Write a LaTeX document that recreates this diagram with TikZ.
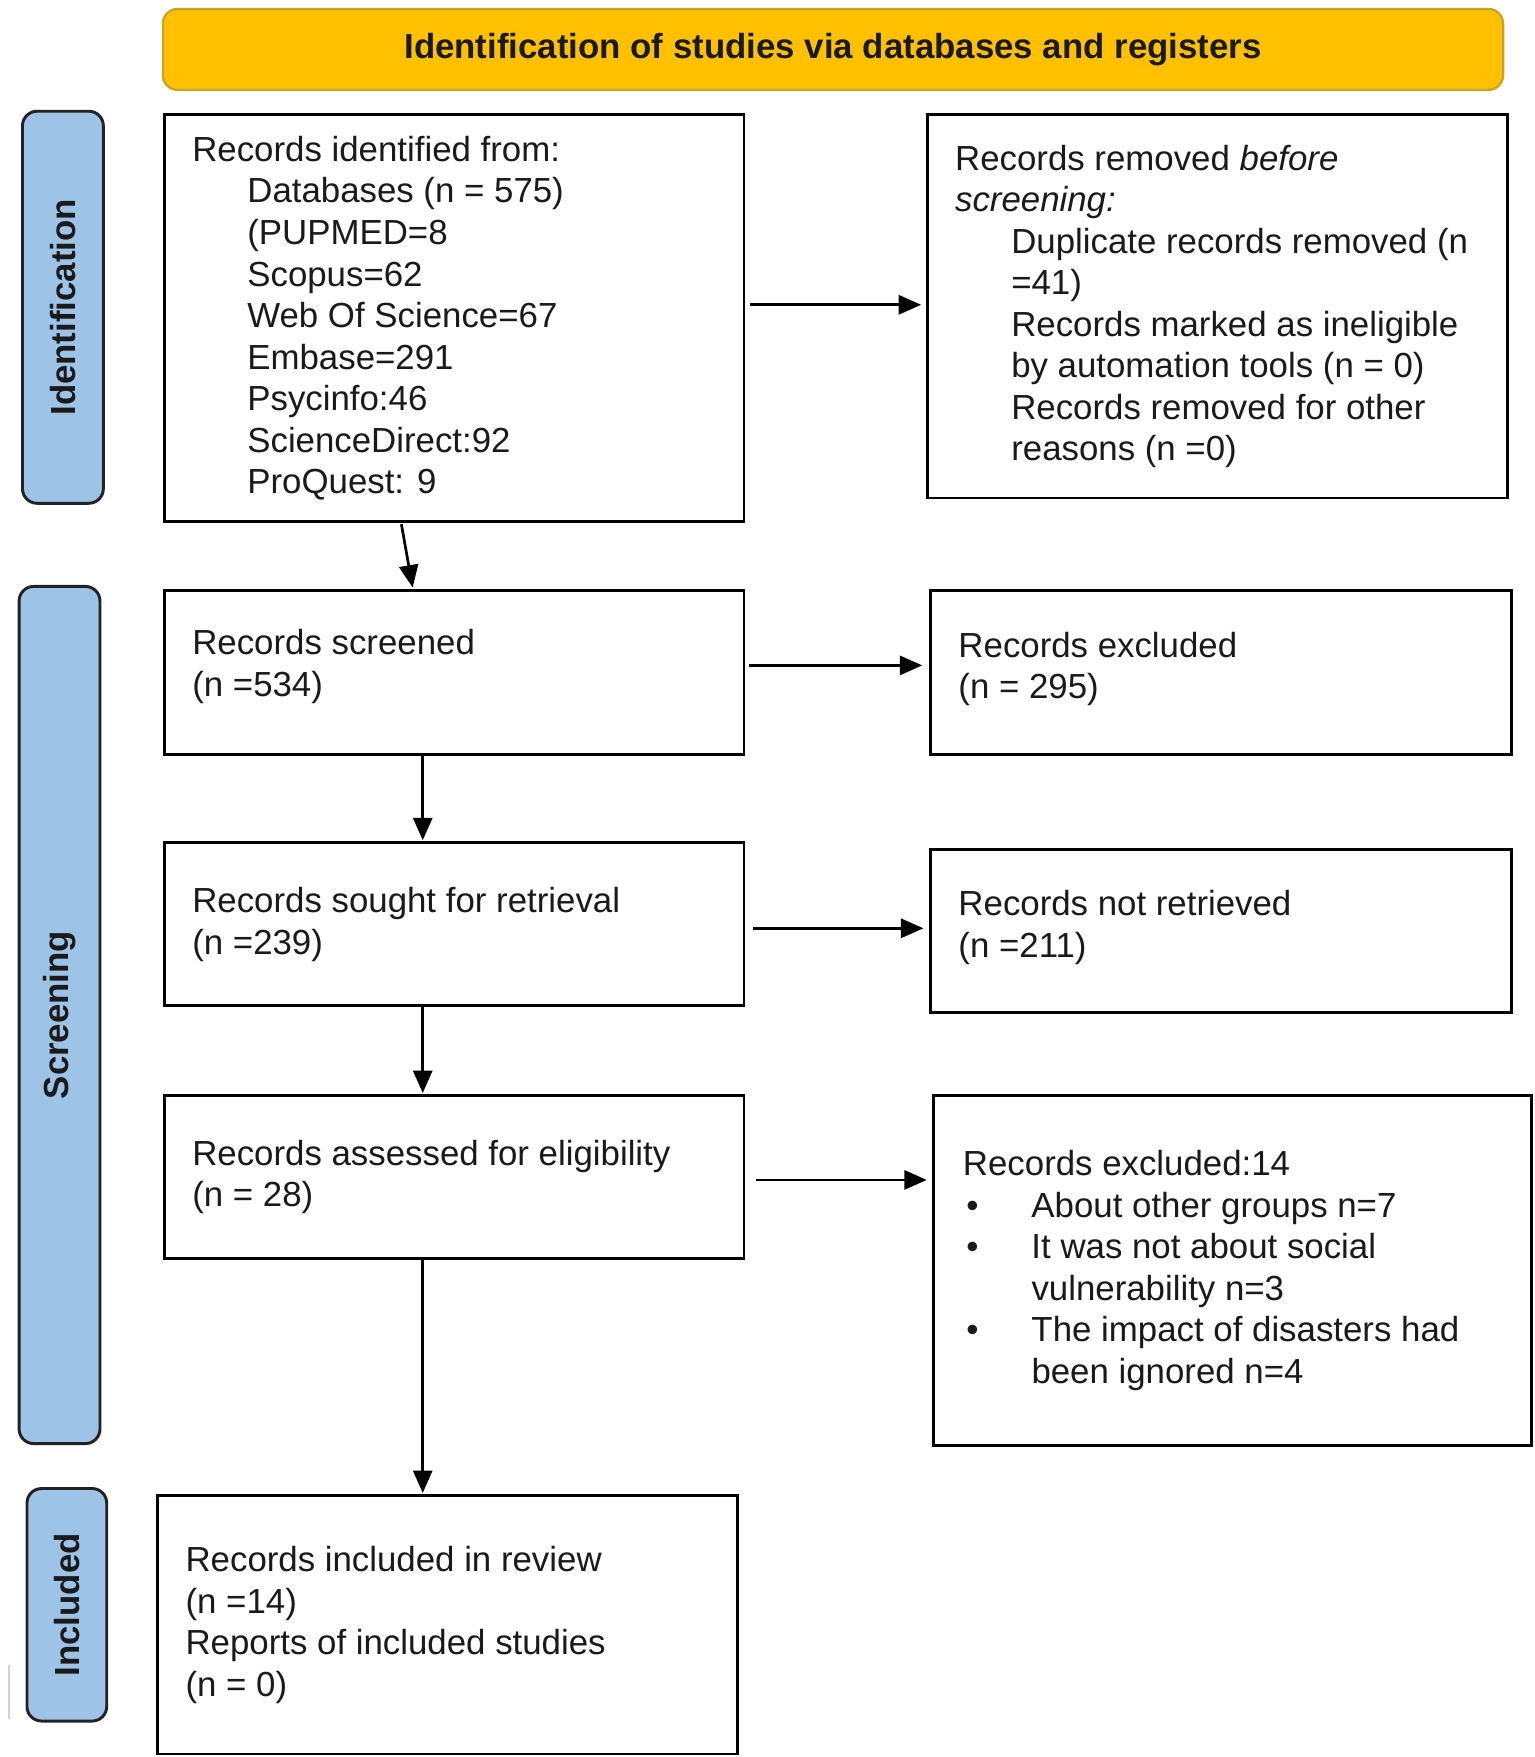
\documentclass[tikz,border=0pt]{standalone}
\usepackage{fontspec}
\setmainfont{Liberation Sans}
\usetikzlibrary{arrows.meta,calc}
\definecolor{banner}{HTML}{FFC000}
\definecolor{bannerline}{HTML}{C9A227}
\definecolor{sidefill}{HTML}{9DC3E6}
\definecolor{sideline}{HTML}{222222}
\definecolor{ink}{HTML}{1A1A1A}
\begin{document}
\begin{tikzpicture}[x=1pt,y=-1pt,
  box/.style={draw=black,line width=2.6pt,fill=white,anchor=north west,inner sep=0pt},
  txt/.style={anchor=west,align=left,inner sep=0pt,text=ink,font=\fontsize{31}{37}\selectfont},
  sidebox/.style={draw=sideline,line width=2.6pt,fill=sidefill,rounded corners=13pt,rotate=90,
     inner sep=0pt,text=ink,font=\fontsize{31}{37}\selectfont\bfseries},
  arr/.style={draw=black,line width=2.4pt,-{Triangle[length=20pt,width=17pt]}}
]
\useasboundingbox (0,0) rectangle (1366,1564);

% banner
\node[draw=bannerline,line width=2pt,fill=banner,rounded corners=13pt,minimum width=1193pt,minimum height=72pt,
  inner sep=0pt,text=ink,font=\fontsize{31}{37}\selectfont\bfseries] (ban) at (741.5,44)
  {Identification of studies via databases and registers};

% side labels
\node[sidebox,minimum width=349pt,minimum height=72pt] (sid) at (56,273.5) {Identification};
\node[sidebox,minimum width=763pt,minimum height=72pt] (ssc) at (53,903.5) {Screening};
\node[sidebox,minimum width=207pt,minimum height=71pt] (sin) at (59.5,1428.5) {Included};

% left column boxes
\node[box,minimum width=516pt,minimum height=362pt] (b1) at (145,101) {};
\node[box,minimum width=516pt,minimum height=146pt] (b2) at (145,524) {};
\node[box,minimum width=516pt,minimum height=145pt] (b3) at (145,749) {};
\node[box,minimum width=516pt,minimum height=145pt] (b4) at (145,974) {};
\node[box,minimum width=516pt,minimum height=230pt] (b5) at (139,1330) {};

% right column boxes
\node[box,minimum width=517pt,minimum height=341pt] (r1) at (824,101) {};
\node[box,minimum width=517pt,minimum height=146pt] (r2) at (827,524) {};
\node[box,minimum width=517pt,minimum height=145pt] (r3) at (827,755) {};
\node[box,minimum width=532pt,minimum height=311pt] (r4) at (830,974) {};

% texts
\node[txt] (t1) at ([xshift=26pt]b1.west) {Records identified from:\\
\hspace*{49pt}Databases (n = 575)\\
\hspace*{49pt}(PUPMED=8\\
\hspace*{49pt}Scopus=62\\
\hspace*{49pt}Web Of Science=67\\
\hspace*{49pt}Embase=291\\
\hspace*{49pt}Psycinfo:46\\
\hspace*{49pt}ScienceDirect:92\\
\hspace*{49pt}ProQuest: 9};

\node[txt] (t2) at ([xshift=26pt,yshift=5pt]b2.west) {Records screened\\(n =534)};
\node[txt] (t3) at ([xshift=26pt]b3.west) {Records sought for retrieval\\(n =239)};
\node[txt] (t4) at ([xshift=26pt]b4.west) {Records assessed for eligibility\\(n = 28)};
\node[txt] (t5) at ([xshift=26pt]b5.west) {Records included in review\\(n =14)\\Reports of included studies\\(n = 0)};

\node[txt] (u1) at ([xshift=26pt]r1.west) {Records removed \textit{before}\\
\textit{screening:}\\
\hspace*{50pt}Duplicate records removed (n\\
\hspace*{50pt}=41)\\
\hspace*{50pt}Records marked as ineligible\\
\hspace*{50pt}by automation tools (n = 0)\\
\hspace*{50pt}Records removed for other\\
\hspace*{50pt}reasons (n =0)};

\node[txt] (u2) at ([xshift=26pt,yshift=3pt]r2.west) {Records excluded\\(n = 295)};
\node[txt] (u3) at ([xshift=26pt,yshift=3pt]r3.west) {Records not retrieved\\(n =211)};
\node[txt] (u4) at ([xshift=27pt]r4.west) {Records excluded:14\\
\makebox[61pt][l]{\hspace{3pt}\textbullet}About other groups n=7\\
\makebox[61pt][l]{\hspace{3pt}\textbullet}It was not about social\\
\hspace*{61pt}vulnerability n=3\\
\makebox[61pt][l]{\hspace{3pt}\textbullet}The impact of disasters had\\
\hspace*{61pt}been ignored n=4};

% vertical connectors
\draw[arr] ([xshift=-47pt,yshift=-1pt]b1.south) -- ([xshift=-37pt,yshift=1pt]b2.north);
\draw[arr] ([xshift=-28pt]b2.south) -- ([xshift=-28pt,yshift=1pt]b3.north);
\draw[arr] ([xshift=-28pt]b3.south) -- ([xshift=-28pt,yshift=1pt]b4.north);
\draw[arr] ([xshift=-28pt]b4.south) -- ([xshift=-22pt,yshift=1pt]b5.north);

% horizontal connectors
\draw[arr] ([xshift=4pt,yshift=12pt]b1.east) -- ([xshift=-4pt,yshift=12pt]b1.east -| r1.west);
\draw[arr] ([xshift=3pt,yshift=6pt]b2.east) -- ([xshift=-6pt,yshift=6pt]b2.east -| r2.west);
\draw[arr] ([xshift=7pt,yshift=-3.5pt]b3.east) -- ([xshift=-5pt,yshift=-3.5pt]b3.east -| r3.west);
\draw[arr] ([xshift=9pt,yshift=-2.5pt]b4.east) -- ([xshift=-5pt,yshift=-2.5pt]b4.east -| r4.west);

% faint stray mark at the lower left edge
\draw[gray!35,line width=2pt] (8,1482) -- (8,1530);
\end{tikzpicture}
\end{document}
